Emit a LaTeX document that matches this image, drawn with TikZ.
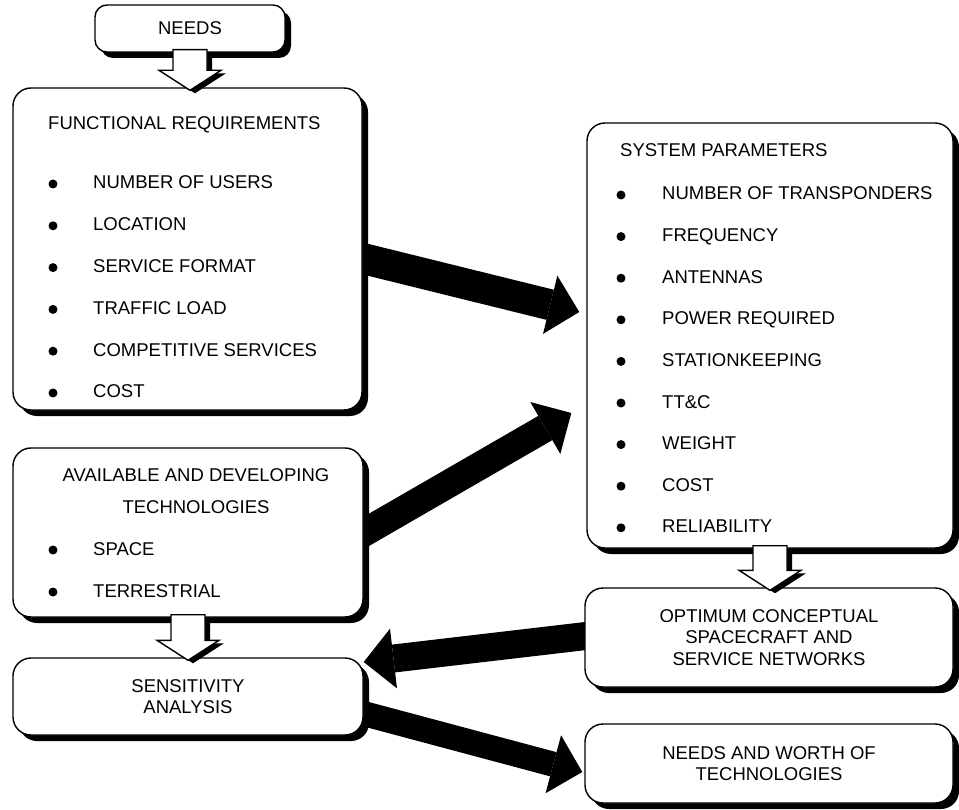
\documentclass[tikz,border=0pt]{standalone}
\usepackage{fontspec}
\setmainfont{Liberation Sans}
\usetikzlibrary{arrows.meta,calc,shadows}
\pgfdeclarelayer{bg}
\pgfsetlayers{bg,main}
\tikzset{
  box/.style={draw, line width=1.4pt, rounded corners=18pt, fill=white, inner sep=0pt,
    drop shadow={shadow xshift=6pt, shadow yshift=-6pt, opacity=1, fill=black}},
  hollow/.style={draw, fill=white, line width=1.4pt, line join=miter,
    drop shadow={shadow xshift=5pt, shadow yshift=-3pt, opacity=1, fill=black}},
  fatarrow/.style={line width=#1, -{Triangle[length=30pt,width=60pt,line width=0pt]}},
  item/.style={anchor=base west, inner sep=0pt},
  title/.style={anchor=base, inner sep=0pt},
}
% open block arrow from one box down to the next
\newcommand{\blockarrow}[3]{%
  \filldraw[hollow, xshift=#3] let \p1=(#1.south), \p2=(#2.north) in
    (\x1-17pt,\y1+3pt) -- (\x1-17pt,\y2+17pt) -- (\x1-31pt,\y2+17pt) -- (\x1,\y2-3pt)
    -- (\x1+31pt,\y2+17pt) -- (\x1+17pt,\y2+17pt) -- (\x1+17pt,\y1+3pt) -- cycle;}

\begin{document}
\begin{tikzpicture}[x=1pt,y=-1pt,font=\fontsize{18.5}{21.5}\selectfont]
  \useasboundingbox (0,0) rectangle (959,810);
  % boxes
  \node[box, rounded corners=12pt, minimum width=190, minimum height=47] (needs) at (190,28.5) {NEEDS};
  \node[box, minimum width=349, minimum height=322] (func) at (187.5,249) {};
  \node[box, minimum width=350, minimum height=169] (avail) at (188,532.5) {};
  \node[box, align=center, minimum width=350, minimum height=77] (sens) at (188,696.5) {SENSITIVITY\\ANALYSIS};
  \node[box, minimum width=366, minimum height=425] (sys) at (770,335.5) {};
  \node[box, align=center, minimum width=368, minimum height=99] (opt) at (769,637.5) {OPTIMUM CONCEPTUAL\\SPACECRAFT AND\\SERVICE NETWORKS};
  \node[box, align=center, minimum width=368, minimum height=79] (worth) at (769,763.5) {NEEDS AND WORTH OF\\TECHNOLOGIES};

  % functional requirements
  \node[item] (functitle) at (48,130) {FUNCTIONAL REQUIREMENTS};
  \foreach \txt [count=\i] in {NUMBER OF USERS, LOCATION, SERVICE FORMAT, TRAFFIC LOAD, COMPETITIVE SERVICES, COST} {
    \fill (53,{184+41.8*(\i-1)}) circle (4.5);
    \node[item] (fr-\i) at (93,{189+41.8*(\i-1)}) {\txt};
  }

  % technologies
  \node[title] (availtitle) at (196,481) {AVAILABLE AND DEVELOPING};
  \node[title] (availtitle2) at (196,513) {TECHNOLOGIES};
  \foreach \txt [count=\i] in {SPACE, TERRESTRIAL} {
    \fill (53,{550+42*(\i-1)}) circle (4.5);
    \node[item] (tech-\i) at (93,{555+42*(\i-1)}) {\txt};
  }

  % system parameters
  \node[item] (systitle) at (620,157) {SYSTEM PARAMETERS};
  \foreach \txt [count=\i] in {NUMBER OF TRANSPONDERS, FREQUENCY, ANTENNAS, POWER REQUIRED, STATIONKEEPING, TT\&C, WEIGHT, COST, RELIABILITY} {
    \fill (621,{195+41.6*(\i-1)}) circle (4.5);
    \node[item] (sp-\i) at (662,{200+41.6*(\i-1)}) {\txt};
  }

  % solid arrows behind the boxes
  \begin{pgfonlayer}{bg}
    \draw[fatarrow=31pt] ([xshift=-10pt,yshift=-7pt]func.east) -- ([xshift=-7pt,yshift=23.5pt]sys.west);
    \draw[fatarrow=28pt] ([xshift=-8pt,yshift=-5pt]avail.east) -- ([xshift=-15pt,yshift=-77.5pt]sys.west);
    \draw[fatarrow=28pt] ([xshift=10pt,yshift=2.5pt]opt.west) -- ([yshift=34.5pt]sens.east);
    \draw[fatarrow=25pt] ([xshift=-4pt,yshift=-16pt]sens.east) -- ([xshift=-2pt,yshift=-8.5pt]worth.west);
  \end{pgfonlayer}

  % open arrows
  \blockarrow{needs}{func}{0pt}
  \blockarrow{avail}{sens}{2pt}
  \blockarrow{sys}{opt}{8pt}
\end{tikzpicture}
\end{document}
